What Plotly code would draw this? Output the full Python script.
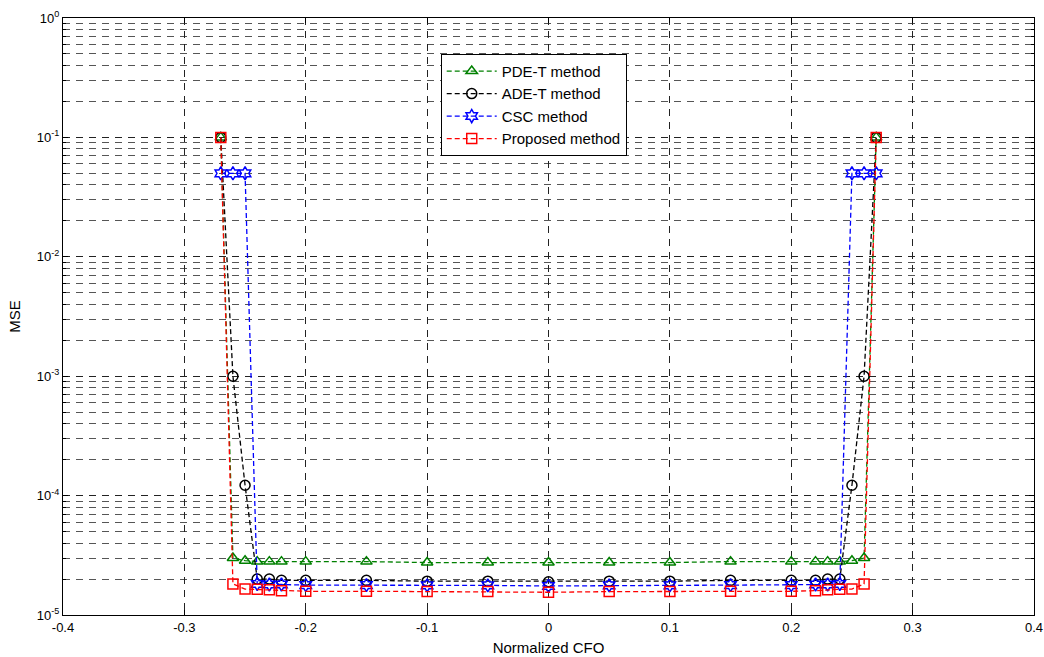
import plotly.graph_objects as go

cfo = [-0.27, -0.26, -0.25, -0.24, -0.23, -0.22, -0.2, -0.15, -0.1, -0.05, 0,
       0.05, 0.1, 0.15, 0.2, 0.22, 0.23, 0.24, 0.25, 0.26, 0.27]

pde_t = [1e-1, 3.0e-5, 2.85e-5, 2.8e-5, 2.8e-5, 2.8e-5, 2.8e-5, 2.8e-5, 2.75e-5, 2.75e-5, 2.75e-5,
         2.75e-5, 2.75e-5, 2.8e-5, 2.8e-5, 2.8e-5, 2.8e-5, 2.8e-5, 2.85e-5, 3.0e-5, 1e-1]
ade_t = [1e-1, 1e-3, 1.22e-4, 2.0e-5, 2.0e-5, 1.95e-5, 1.95e-5, 1.95e-5, 1.92e-5, 1.92e-5, 1.9e-5,
         1.92e-5, 1.92e-5, 1.95e-5, 1.95e-5, 1.95e-5, 2.0e-5, 2.0e-5, 1.22e-4, 1e-3, 1e-1]
csc = [5e-2, 5e-2, 5e-2, 1.82e-5, 1.8e-5, 1.8e-5, 1.78e-5, 1.78e-5, 1.77e-5, 1.77e-5, 1.75e-5,
       1.77e-5, 1.77e-5, 1.78e-5, 1.78e-5, 1.8e-5, 1.8e-5, 1.82e-5, 5e-2, 5e-2, 5e-2]
proposed = [1e-1, 1.82e-5, 1.65e-5, 1.64e-5, 1.63e-5, 1.6e-5, 1.58e-5, 1.58e-5, 1.57e-5, 1.57e-5, 1.55e-5,
            1.57e-5, 1.57e-5, 1.58e-5, 1.58e-5, 1.6e-5, 1.63e-5, 1.64e-5, 1.65e-5, 1.82e-5, 1e-1]

x_ticks = [-0.4, -0.3, -0.2, -0.1, 0, 0.1, 0.2, 0.3, 0.4]
x_ticklabels = ["-0.4", "-0.3", "-0.2", "-0.1", "0", "0.1", "0.2", "0.3", "0.4"]
y_ticks = [1e-5, 1e-4, 1e-3, 1e-2, 1e-1, 1e0]
y_ticklabels = ["10<sup>-5</sup>", "10<sup>-4</sup>", "10<sup>-3</sup>",
                "10<sup>-2</sup>", "10<sup>-1</sup>", "10<sup>0</sup>"]

series = [
    ("PDE-T method", pde_t, "#008000", "triangle-up-open"),
    ("ADE-T method", ade_t, "#000000", "circle-open"),
    ("CSC method", csc, "#0000ff", "hexagram-open"),
    ("Proposed method", proposed, "#ff0000", "square-open"),
]

fig = go.Figure()
for name, vals, color, sym in series:
    fig.add_trace(go.Scatter(
        x=cfo, y=vals, name=name, mode="lines+markers",
        line=dict(color=color, width=1.3, dash="5px,3px"),
        marker=dict(symbol=sym, size=10, color=color, line=dict(width=1.5, color=color)),
    ))

font = "Liberation Sans, Arial, sans-serif"
fig.update_layout(
    width=1044, height=657,
    margin=dict(l=63, r=10, t=18, b=42),
    paper_bgcolor="white", plot_bgcolor="white",
    font=dict(family=font, size=12, color="black"),
    showlegend=True,
    legend=dict(
        x=0.389, y=0.94, xanchor="left", yanchor="top",
        bgcolor="white", bordercolor="black", borderwidth=1,
        font=dict(family=font, size=15, color="black"),
        tracegroupgap=0, itemwidth=50,
    ),
    xaxis=dict(
        range=[-0.4, 0.4], tickvals=x_ticks, ticktext=x_ticklabels,
        showline=True, linecolor="black", linewidth=1, mirror="ticks",
        ticks="inside", ticklen=5, tickcolor="black",
        showgrid=True, gridcolor="#222", griddash="7px,6px", gridwidth=1,
        zeroline=False, automargin=False,
        title=dict(text="Normalized CFO", font=dict(size=15), standoff=8),
        tickfont=dict(size=13),
    ),
    yaxis=dict(
        type="log", range=[-5, 0], tickvals=y_ticks, ticktext=y_ticklabels,
        showline=True, linecolor="black", linewidth=1, mirror="ticks",
        ticks="inside", ticklen=5, tickcolor="black",
        showgrid=True, gridcolor="#222", griddash="7px,6px", gridwidth=1,
        minor=dict(showgrid=True, gridcolor="#555", griddash="7px,6px",
                   ticks="inside", ticklen=3, tickcolor="black", dtick="D1"),
        zeroline=False, automargin=False,
        title=dict(text="MSE", font=dict(size=15), standoff=12),
        tickfont=dict(size=13),
    ),
)

fig.write_html("out.html")
